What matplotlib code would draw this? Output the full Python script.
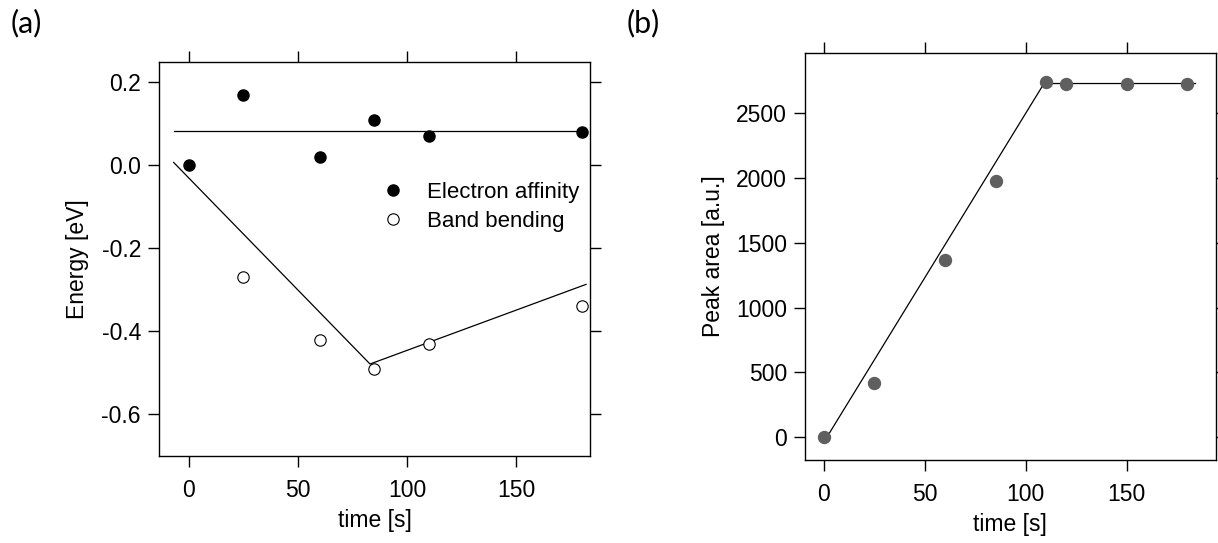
import matplotlib
matplotlib.use("Agg")
import matplotlib.pyplot as plt
from matplotlib.ticker import FormatStrFormatter

plt.rcParams["font.family"] = ["Liberation Sans", "DejaVu Sans"]
plt.rcParams["axes.unicode_minus"] = False

# (a) energies vs. exposure time
time_ea = [0, 25, 60, 85, 110, 180]
electron_affinity = [0.0, 0.17, 0.02, 0.11, 0.07, 0.08]
time_bb = [25, 60, 85, 110, 180]
band_bending = [-0.27, -0.42, -0.49, -0.43, -0.34]

ea_fit_time = [-7, 180]
ea_fit = [0.082, 0.082]
bb_fit_time = [-7, 83, 182]
bb_fit = [0.007, -0.479, -0.287]

# (b) peak area vs. exposure time
time_pa = [0, 25, 60, 85, 110, 120, 150, 180]
peak_area = [0, 420, 1365, 1978, 2745, 2730, 2730, 2730]
pa_fit_time = [0, 109, 184]
pa_fit = [-40, 2730, 2730]

xticks = [0, 50, 100, 150]
yticks_a = [0.2, 0.0, -0.2, -0.4, -0.6]
yticks_b = [0, 500, 1000, 1500, 2000, 2500]

W, H = 1218, 543
fig = plt.figure(figsize=(W / 100, H / 100), dpi=100)


def frac_axes(left, top, right, bottom):
    return fig.add_axes([left / W, 1 - bottom / H, (right - left) / W, (bottom - top) / H])


TICK = 16.5
LBL = 16.5


def style(ax):
    for s in ax.spines.values():
        s.set_linewidth(1.0)
    ax.tick_params(which="both", direction="out", top=True, right=True,
                   labeltop=False, labelright=False, length=8, width=1.0,
                   labelsize=TICK)
    ax.tick_params(axis="x", pad=9)
    ax.tick_params(axis="y", pad=5)


ax1 = frac_axes(159, 62, 590, 455.7)
ax1.plot(ea_fit_time, ea_fit, color="black", lw=0.9, zorder=2)
ax1.plot(bb_fit_time, bb_fit, color="black", lw=0.9, zorder=2)
ax1.plot(time_ea, electron_affinity, "o", color="black", ms=8.0, ls="none",
         label="Electron affinity", zorder=3)
ax1.plot(time_bb, band_bending, "o", mfc="white", mec="black", mew=0.8, ms=8.2,
         ls="none", label="Band bending", zorder=3)
ax1.set_xlim(-13.7, 183.8)
ax1.set_ylim(-0.7, 0.249)
ax1.set_xticks(xticks)
ax1.set_yticks(yticks_a)
ax1.yaxis.set_major_formatter(FormatStrFormatter("%.1f"))
style(ax1)
ax1.set_xlabel("time [s]", fontsize=LBL, labelpad=5)
ax1.set_ylabel("Energy [eV]", fontsize=LBL, labelpad=9)
ax1.legend(loc="upper left", bbox_to_anchor=(0.519, 0.695), frameon=False,
           fontsize=16, handlelength=0.95, handletextpad=1.05, borderpad=0,
           borderaxespad=0, labelspacing=0.36)

ax2 = frac_axes(805, 52.7, 1215.7, 459.7)
ax2.plot(pa_fit_time, pa_fit, color="black", lw=0.9, zorder=2)
ax2.plot(time_pa, peak_area, "o", color="#5f5f5f", ms=8.6, ls="none", zorder=3)
ax2.set_xlim(-9.3, 194)
ax2.set_ylim(-175, 2968)
ax2.set_xticks(xticks)
ax2.set_yticks(yticks_b)
style(ax2)
ax2.set_xlabel("time [s]", fontsize=LBL, labelpad=5)
ax2.set_ylabel("Peak area [a.u.]", fontsize=LBL, labelpad=8)

fig.text(11 / W, 1 - 9 / H, "(a)", fontsize=22, family=["Lato", "DejaVu Sans"],
         ha="left", va="top")
fig.text(627 / W, 1 - 9 / H, "(b)", fontsize=22, family=["Lato", "DejaVu Sans"],
         ha="left", va="top")

fig.savefig("out.png", dpi=100)
